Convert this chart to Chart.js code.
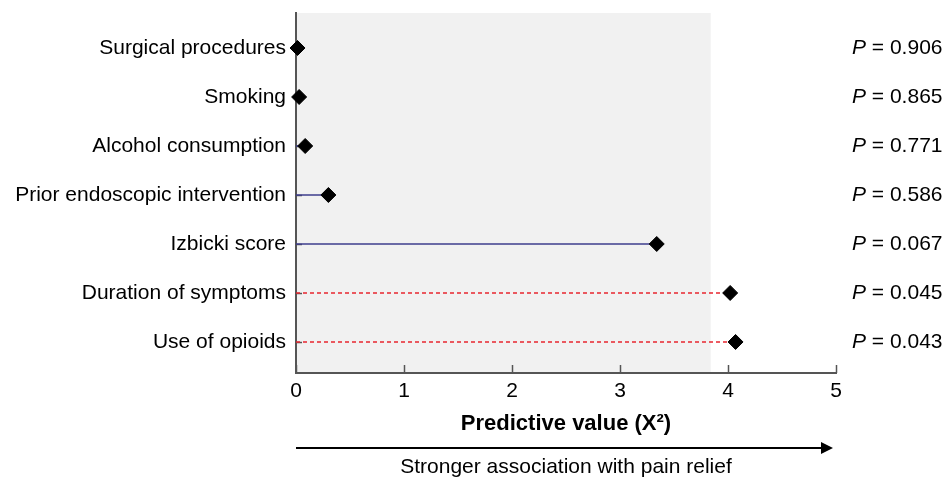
<!DOCTYPE html>
<html>
<head>
<meta charset="utf-8">
<script src="https://cdn.jsdelivr.net/npm/chart.js@4.4.1/dist/chart.umd.min.js"></script>
<style>
  html, body { margin: 0; padding: 0; background: #fff; }
  #wrap { width: 945px; height: 477px; }
</style>
</head>
<body>
<div id="wrap"><canvas id="c"></canvas></div>
<script>
// predictors, top to bottom
const factors = ['Surgical procedures', 'Smoking', 'Alcohol consumption', 'Prior endoscopic intervention',
                 'Izbicki score', 'Duration of symptoms', 'Use of opioids'];
const chiSq   = [0.014, 0.029, 0.085, 0.30, 3.34, 4.02, 4.07];
const pValues = ['0.906', '0.865', '0.771', '0.586', '0.067', '0.045', '0.043'];
const significant = [false, false, false, false, false, true, true];
const xTicks = [0, 1, 2, 3, 4, 5];
const critical = 3.84;   // shaded zone = not significant
const FONT = '"Liberation Sans", Arial, sans-serif';

/* stems: one small line dataset per row, from 0 to the value */
const stems = factors.map((f, i) => ({
  type: 'line',
  label: f,
  data: [{ x: 0, y: i }, { x: chiSq[i], y: i }],
  borderColor: significant[i] ? '#e8262f' : '#3c3c8c',
  borderWidth: significant[i] ? 1.3 : 1.5,
  borderDash: significant[i] ? [4, 3] : [],
  pointRadius: 0,
  order: 2,
}));

const shadePlugin = {
  id: 'shade',
  beforeDatasetsDraw(chart) {
    const { ctx, chartArea: a, scales: { x, y } } = chart;
    ctx.save();
    ctx.fillStyle = '#f1f1f1';
    ctx.fillRect(a.left + 1, a.top, x.getPixelForValue(critical) - a.left - 1, a.bottom - a.top - 1);
    // inner tick marks
    ctx.strokeStyle = '#555';
    ctx.lineWidth = 1.5;
    xTicks.forEach(v => {
      const px = Math.round(x.getPixelForValue(v)) + 0.5;
      ctx.beginPath(); ctx.moveTo(px, a.bottom); ctx.lineTo(px, a.bottom - 8); ctx.stroke();
    });
    factors.forEach((f, i) => {
      const py = Math.round(y.getPixelForValue(i)) + 0.5;
      ctx.beginPath(); ctx.moveTo(a.left, py); ctx.lineTo(a.left + 6, py); ctx.stroke();
    });
    ctx.restore();
  },
  afterDraw(chart) {
    const { ctx, chartArea: a, scales: { x, y } } = chart;
    ctx.save();
    // P values on the right
    ctx.fillStyle = '#000';
    ctx.textBaseline = 'middle';
    ctx.textAlign = 'left';
    pValues.forEach((p, i) => {
      const py = y.getPixelForValue(i);
      ctx.font = 'italic 21px ' + FONT;
      ctx.fillText('P', 852, py);
      const w = ctx.measureText('P').width;
      ctx.font = '21px ' + FONT;
      ctx.fillText(' = ' + p, 852 + w, py);
    });
    // arrow + caption
    const ay = 448;
    const x0 = a.left, x1 = x.getPixelForValue(5) - 3;
    ctx.strokeStyle = '#000';
    ctx.lineWidth = 2;
    ctx.beginPath(); ctx.moveTo(x0, ay); ctx.lineTo(x1 - 10, ay); ctx.stroke();
    ctx.beginPath(); ctx.moveTo(x1, ay); ctx.lineTo(x1 - 12, ay - 6); ctx.lineTo(x1 - 12, ay + 6); ctx.closePath(); ctx.fill();
    ctx.textAlign = 'center';
    ctx.font = '21px ' + FONT;
    ctx.fillText('Stronger association with pain relief', (a.left + a.right) / 2, 467);
    ctx.restore();
  }
};

new Chart(document.getElementById('c'), {
  type: 'scatter',
  data: {
    datasets: [
      ...stems,
      {
        label: 'χ²',
        data: chiSq.map((v, i) => ({ x: v, y: i })),
        pointStyle: 'rectRot',
        pointRadius: 7.5,
        pointBackgroundColor: '#000',
        pointBorderColor: '#000',
        pointBorderWidth: 1,
        clip: false,
        order: 1,
      },
    ],
  },
  options: {
    responsive: true, maintainAspectRatio: false,
    animation: false,
    layout: { padding: { top: 13, right: 109, bottom: 0, left: 0 } },
    plugins: { legend: { display: false }, tooltip: { enabled: false } },
    scales: {
      x: {
        type: 'linear', min: 0, max: 5,
        afterBuildTicks: s => { s.ticks = xTicks.map(v => ({ value: v })); },
        afterFit: s => { s.height = 104; s.paddingLeft = 0; s.paddingRight = 0; },
        grid: { display: false, drawTicks: false },
        border: { display: true, color: '#555', width: 2 },
        ticks: { color: '#000', padding: 6, font: { family: FONT, size: 21 } },
        title: {
          display: true, text: 'Predictive value (X²)', color: '#000',
          font: { family: FONT, size: 22, weight: 'bold' },
          padding: { top: 0, bottom: 40 },
        },
      },
      y: {
        type: 'linear', reverse: true, min: -0.714, max: 6.633,
        afterBuildTicks: s => { s.ticks = factors.map((f, i) => ({ value: i })); },
        afterFit: s => { s.width = 296; s.paddingTop = 0; s.paddingBottom = 0; },
        grid: { display: false, drawTicks: false },
        border: { display: true, color: '#555', width: 2 },
        ticks: { color: '#000', padding: 10, font: { family: FONT, size: 21 },
                 callback: v => factors[v] },
      },
    },
  },
  plugins: [shadePlugin],
});
</script>
</body>
</html>
